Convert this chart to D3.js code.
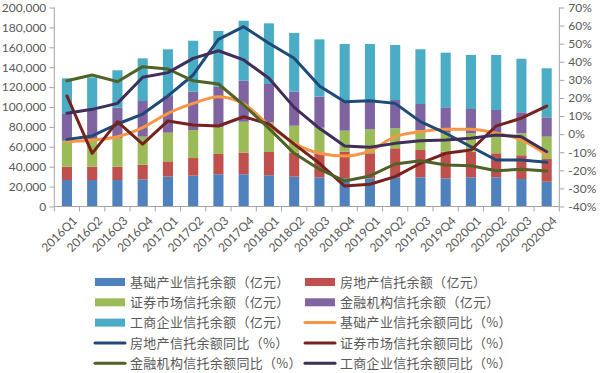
<!DOCTYPE html>
<html><head><meta charset="utf-8">
<script src="https://cdn.jsdelivr.net/npm/d3@7"></script>
<style>
html,body{margin:0;padding:0;background:#fff;}
svg text{font-family:Lato,"Noto Sans CJK SC",sans-serif;}
</style></head>
<body>
<svg id="chart" width="600" height="373"></svg>
<script>
const categories = ["2016Q1","2016Q2","2016Q3","2016Q4","2017Q1","2017Q2","2017Q3","2017Q4","2018Q1","2018Q2","2018Q3","2018Q4","2019Q1","2019Q2","2019Q3","2019Q4","2020Q1","2020Q2","2020Q3","2020Q4"];
// Balances (亿元)
const infra    = [26600,26600,26600,27300,30000,31000,32400,32400,31400,30000,29300,28500,28300,29300,29300,28300,29300,29300,27600,24900];
const realty   = [13400,13400,13400,14700,15400,17700,20400,21700,23400,24100,24200,26600,25200,29200,27500,26800,25800,24200,23900,22800];
const securities=[26100,26800,28500,28200,28800,28200,26800,31100,29800,27100,25700,21100,24100,20100,20100,19100,18500,16700,22100,22500];
const financial= [27600,30200,30800,35800,36800,38500,40800,41200,38500,34200,31200,29800,27700,28400,26100,25500,24400,26800,21100,19400];
const industrial=[35100,32800,37600,42900,47000,51200,56000,60300,61000,59000,57600,57300,58000,55300,55000,54900,54300,55300,53800,49300];
// YoY growth (%)
const infraYoY     = [-4.2,-3.2,-1.4,3.6,11.5,17.0,20.7,16.7,5.0,-5.1,-10.6,-12.1,-9.2,-1.4,1.3,2.7,2.7,0.5,-3.2,-11.5];
const realtyYoY    = [-2.9,-1.0,5.6,11.1,21.1,32.7,52.4,59.4,50.2,41.9,26.6,17.9,18.5,17.0,6.9,0.5,-7.0,-14.3,-14.3,-15.6];
const securitiesYoY= [21.1,-10.6,6.9,-5.5,7.3,5.0,4.5,9.6,5.6,-5.5,-16.1,-28.7,-27.7,-23.5,-16.1,-10.6,-8.8,4.5,8.8,15.5];
const financialYoY = [29.5,32.7,29.0,37.3,36.0,29.5,27.7,16.1,3.2,-10.6,-19.4,-25.9,-23.1,-16.5,-14.7,-17.1,-17.5,-20.2,-19.4,-20.4];
const industrialYoY= [11.5,13.7,17.0,31.4,34.0,41.9,46.1,41.0,30.9,14.8,3.2,-6.6,-7.3,-5.1,-3.6,-3.2,-2.3,-0.5,-1.4,-9.7];
const leftTicks = [0,20000,40000,60000,80000,100000,120000,140000,160000,180000,200000];
const rightTicks = [-40,-30,-20,-10,0,10,20,30,40,50,60,70];

const barSeries = [
  {name:"基础产业信托余额（亿元）", values:infra, color:"#4F81BD"},
  {name:"房地产信托余额（亿元）", values:realty, color:"#C0504D"},
  {name:"证券市场信托余额（亿元）", values:securities, color:"#9BBB59"},
  {name:"金融机构信托余额（亿元）", values:financial, color:"#8064A2"},
  {name:"工商企业信托余额（亿元）", values:industrial, color:"#4BACC6"}
];
const lineSeries = [
  {name:"基础产业信托余额同比（%）", values:infraYoY, color:"#F79646", smooth:true},
  {name:"房地产信托余额同比（%）", values:realtyYoY, color:"#1F4A78"},
  {name:"证券市场信托余额同比（%）", values:securitiesYoY, color:"#76231F"},
  {name:"金融机构信托余额同比（%）", values:financialYoY, color:"#4F6228"},
  {name:"工商企业信托余额同比（%）", values:industrialYoY, color:"#3F2E5A"}
];

const svg = d3.select("#chart");
const L = 54.3, R = 559.3, T = 7.5, B = 206.5;
const x = d3.scaleBand().domain(categories).range([L,R]).paddingInner(0.6).paddingOuter(0.3);
const xc = d => x(d) + x.bandwidth()/2;
const yL = d3.scaleLinear().domain([0,200000]).range([B,T]);
const yR = d3.scaleLinear().domain([-40,70]).range([B,T]);
const axisColor = "#A6A6A6", textColor = "#595959";

// stacked bars
const rows = categories.map((c,i)=>{const o={cat:c}; barSeries.forEach((s,k)=>o["s"+k]=s.values[i]); return o;});
const stack = d3.stack().keys(barSeries.map((s,k)=>"s"+k))(rows);
stack.forEach((layer,k)=>{
  svg.append("g").attr("fill",barSeries[k].color)
    .selectAll("rect").data(layer).join("rect")
    .attr("x",d=>x(d.data.cat)).attr("width",x.bandwidth())
    .attr("y",d=>yL(d[1])).attr("height",d=>yL(d[0])-yL(d[1]));
});

// lines
lineSeries.forEach(s=>{
  const line = d3.line().x((d,i)=>xc(categories[i])).y(d=>yR(d))
    .curve(s.smooth ? d3.curveMonotoneX : d3.curveLinear);
  svg.append("path").datum(s.values).attr("d",line)
    .attr("fill","none").attr("stroke",s.color).attr("stroke-width",3)
    .attr("stroke-linejoin","round").attr("stroke-linecap","round");
});

// axes
const gL = svg.append("g").attr("transform",`translate(${L},0)`)
  .call(d3.axisLeft(yL).tickValues(leftTicks).tickFormat(d3.format(",")).tickSize(5).tickPadding(3));
const gR = svg.append("g").attr("transform",`translate(${R},0)`)
  .call(d3.axisRight(yR).tickValues(rightTicks).tickFormat(d=>d+"%").tickSize(5).tickPadding(4));
[gL,gR].forEach(g=>{
  g.select(".domain").attr("stroke",axisColor).attr("d",`M0,${T}V${B}`);
  g.selectAll(".tick line").attr("stroke",axisColor);
  g.selectAll("text").attr("fill",textColor).style("font-size","12px").style("font-family","Lato,sans-serif");
});
// x axis
const gX = svg.append("g").attr("transform",`translate(0,${B})`);
gX.append("line").attr("x1",L).attr("x2",R).attr("stroke",axisColor);
const bounds = d3.range(categories.length+1).map(i=>L + i*(R-L)/categories.length);
gX.selectAll("line.tk").data(bounds).join("line").attr("class","tk")
  .attr("x1",d=>d).attr("x2",d=>d).attr("y1",0).attr("y2",5).attr("stroke",axisColor);
gX.selectAll("text").data(categories).join("text")
  .attr("transform",d=>`translate(${xc(d)+5},${9}) rotate(-45)`)
  .attr("text-anchor","end").attr("dy","0.7em")
  .attr("fill",textColor).style("font-size","12px").style("font-family","Lato,sans-serif")
  .text(d=>d);

// legend
const legendItems = [
  barSeries[0], barSeries[1], barSeries[2], barSeries[3], barSeries[4],
  lineSeries[0], lineSeries[1], lineSeries[2], lineSeries[3], lineSeries[4]
];
const lg = svg.append("g");
legendItems.forEach((it,i)=>{
  const col = i%2, row = Math.floor(i/2);
  const lx = col===0 ? 95 : 305, ly = 282 + row*20.3;
  const isLine = lineSeries.includes(it);
  if(isLine){
    lg.append("line").attr("x1",lx).attr("x2",lx+30).attr("y1",ly).attr("y2",ly)
      .attr("stroke",it.color).attr("stroke-width",3).attr("stroke-linecap","round");
  } else {
    lg.append("rect").attr("x",lx).attr("y",ly-4).attr("width",30).attr("height",8).attr("fill",it.color);
  }
  lg.append("text").attr("x",lx+35).attr("y",ly).attr("dy","0.36em")
    .attr("fill",textColor).style("font-size","13px").style("letter-spacing","0.3px")
    .style("font-family","'Noto Sans CJK SC',sans-serif")
    .text(it.name);
});
</script>
</body></html>
